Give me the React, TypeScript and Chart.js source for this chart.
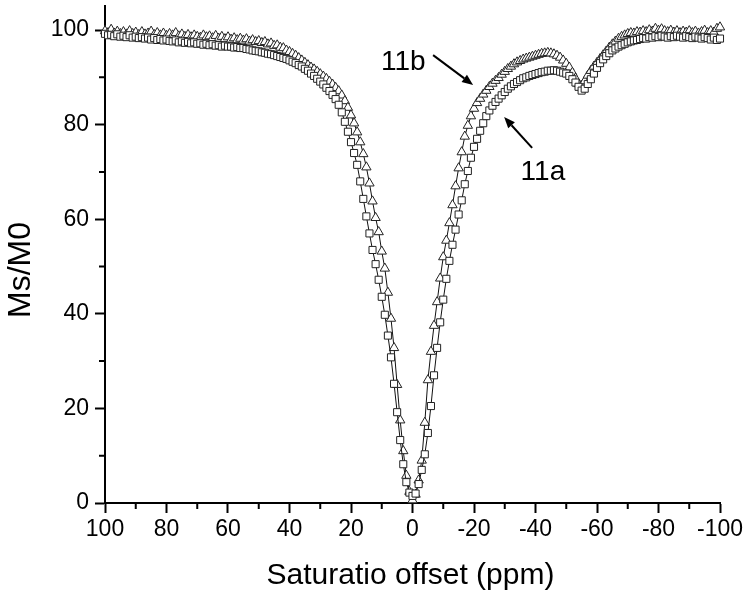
import React, { useEffect, useRef } from 'react';
import { Chart, registerables } from 'chart.js';

Chart.register(...registerables);

// Saturation offset (ppm), 100 → -100
const offsets: number[] = [
  100, 99, 98, 97, 96, 95, 94, 93, 92, 91,
  90, 89, 88, 87, 86, 85, 84, 83, 82, 81,
  80, 79, 78, 77, 76, 75, 74, 73, 72, 71,
  70, 69, 68, 67, 66, 65, 64, 63, 62, 61,
  60, 59, 58, 57, 56, 55, 54, 53, 52, 51,
  50, 49, 48, 47, 46, 45, 44, 43, 42, 41,
  40, 39, 38, 37, 36, 35, 34, 33, 32, 31,
  30, 29, 28, 27, 26, 25, 24, 23, 22, 21,
  20, 19, 18, 17, 16, 15, 14, 13, 12, 11,
  10, 9, 8, 7, 6, 5, 4, 3, 2, 1,
  0,
  -1, -2, -3, -4, -5, -6, -7, -8, -9, -10,
  -11, -12, -13, -14, -15, -16, -17, -18, -19, -20,
  -21, -22, -23, -24, -25, -26, -27, -28, -29, -30,
  -31, -32, -33, -34, -35, -36, -37, -38, -39, -40,
  -41, -42, -43, -44, -45, -46, -47, -48, -49, -50,
  -51, -52, -53, -54, -55, -56, -57, -58, -59, -60,
  -61, -62, -63, -64, -65, -66, -67, -68, -69, -70,
  -71, -72, -73, -74, -75, -76, -77, -78, -79, -80,
  -81, -82, -83, -84, -85, -86, -87, -88, -89, -90,
  -91, -92, -93, -94, -95, -96, -97, -98, -99, -100,
];

// 11a (open squares)
const series11a: number[] = [
  99.2, 98.9, 99.0, 98.7, 99.1, 98.6, 98.8, 98.5, 98.9, 98.4,
  98.6, 98.3, 98.5, 98.2, 98.4, 98.0, 98.3, 97.9, 98.1, 97.8,
  98.0, 97.7, 97.6, 97.8, 97.4, 97.6, 97.3, 97.5, 97.2, 97.4,
  97.1, 97.2, 96.9, 97.1, 96.8, 97.0, 96.7, 96.8, 96.5, 96.7,
  96.5, 96.5, 96.3, 96.4, 96.2, 96.2, 96.0, 95.9, 95.7, 95.6,
  95.5, 95.3, 95.2, 95.0, 94.9, 94.7, 94.5, 94.3, 94.1, 93.9,
  93.6, 93.3, 93.0, 92.6, 92.3, 91.8, 91.4, 90.8, 90.3, 89.7,
  89.1, 88.5, 87.8, 87.1, 86.3, 85.4, 84.2, 82.6, 80.6, 78.5,
  76.3, 74.0, 71.5, 68.0, 64.3, 60.6, 57.0, 53.5, 50.5, 47.2,
  43.6, 39.8, 35.4, 30.8, 25.2, 19.2, 13.3, 8.2, 4.4, 2.2,
  1.5,
  2.0, 4.0, 7.0, 10.3, 14.8, 20.5, 27.0, 32.8, 38.2, 43.0,
  47.4, 51.2, 54.6, 57.8, 61.0, 64.0, 67.4, 70.2, 73.0, 75.3,
  77.0, 78.7, 80.3, 81.8, 83.0, 84.0, 84.8, 85.5, 86.2, 86.9,
  87.6, 88.1, 88.6, 89.0, 89.4, 89.8, 90.0, 90.3, 90.5, 90.7,
  90.9, 91.1, 91.2, 91.4, 91.4, 91.5, 91.4, 91.2, 91.0, 90.8,
  90.3, 89.6, 88.9, 88.0, 87.2, 87.6, 88.6, 89.6, 90.8, 92.0,
  93.0, 93.8, 94.5, 95.1, 95.7, 96.1, 96.5, 96.8, 97.1, 97.4,
  97.6, 97.8, 97.9, 98.1, 98.3, 98.2, 98.5, 98.4, 98.7, 98.5,
  98.8, 98.6, 98.4, 98.7, 98.5, 98.8, 98.6, 98.4, 98.7, 98.5,
  98.3, 98.6, 98.4, 98.2, 98.5, 98.3, 98.0, 98.4, 97.9, 98.2,
];

// 11b (open triangles)
const series11b: number[] = [
  99.8, 99.4, 100.1, 99.3, 99.7, 99.2, 99.6, 99.1, 99.8, 99.2,
  99.5, 99.0, 99.6, 99.1, 99.3, 99.7, 99.0, 99.4, 98.9, 99.3,
  98.8, 99.2, 98.9, 99.4, 98.7, 99.1, 98.6, 99.0, 98.5, 98.9,
  98.6, 98.4, 98.9, 98.5, 98.7, 98.3, 98.8, 98.2, 98.6, 98.1,
  98.5, 98.0, 98.3, 97.9, 98.2, 97.8, 98.1, 97.6, 97.9, 97.5,
  97.7, 97.3, 97.5, 97.0, 97.2, 96.7, 96.8, 96.3, 96.2, 95.7,
  95.4, 95.0, 94.6, 94.1, 93.6, 93.1, 92.6, 92.1, 91.7, 91.2,
  90.7, 90.2, 89.7, 89.1, 88.5, 87.8, 87.1, 86.2, 85.0, 83.6,
  82.0, 80.3, 78.4, 76.3, 73.8, 71.0, 67.6, 63.8, 60.3, 57.3,
  53.2, 49.6, 44.5, 39.0, 32.8, 25.0, 17.5, 11.0, 5.8, 2.4,
  0.6,
  1.8, 4.8, 9.0, 17.0, 26.0, 32.0, 37.5, 42.5, 47.5, 52.0,
  55.5, 59.2, 63.0, 67.0, 70.8, 74.2, 77.5, 79.8, 81.8, 83.4,
  84.6, 85.5, 86.4, 87.2, 88.0, 88.7, 89.3, 89.9, 90.6, 91.2,
  91.8, 92.3, 92.8, 93.2, 93.5, 93.8, 94.0, 94.2, 94.4, 94.6,
  94.8, 95.0, 95.1, 95.2, 95.1, 94.9, 94.6, 94.2, 93.6, 92.9,
  92.1, 91.0, 89.8, 88.6, 88.3, 89.2, 90.4, 91.4, 92.3, 93.1,
  93.9, 94.7, 95.5, 96.3, 97.0, 97.6, 98.2, 98.6, 98.9, 99.2,
  99.4, 99.3, 99.6, 99.5, 99.8, 99.6, 100.0, 99.7, 100.3, 99.9,
  100.2, 99.8, 99.6, 99.9, 99.5, 99.8, 99.4, 99.7, 99.5, 99.8,
  99.4, 99.7, 99.3, 99.6, 99.9, 99.4, 99.8, 99.5, 100.3, 100.6,
];

const xTicks: number[] = [100, 80, 60, 40, 20, 0, -20, -40, -60, -80, -100];
const xMinorTicks: number[] = [90, 70, 50, 30, 10, -10, -30, -50, -70, -90];
const yTicks: number[] = [0, 20, 40, 60, 80, 100];
const yMinorTicks: number[] = [10, 30, 50, 70, 90];

const xTitle = 'Saturatio offset (ppm)';
const yTitle = 'Ms/M0';

// annotations (in data coordinates)
const noteTexts: string[] = ['11b', '11a'];
const noteX: number[] = [3, -42.4];
const noteY: number[] = [93.2, 70.0];
const arrowFromX: number[] = [-6.7, -38.9];
const arrowFromY: number[] = [94.7, 75.1];
const arrowToX: number[] = [-19.7, -29.8];
const arrowToY: number[] = [88.4, 81.6];

const FONT = '"Liberation Sans", Arial, Helvetica, sans-serif';

const decorPlugin = {
  id: 'decor',
  afterDraw(chart: any) {
    const ctx = chart.ctx as CanvasRenderingContext2D;
    const xs = chart.scales.x;
    const ys = chart.scales.y;
    const area = chart.chartArea;
    ctx.save();
    ctx.strokeStyle = '#000';
    ctx.fillStyle = '#000';
    // minor ticks
    ctx.lineWidth = 2;
    ctx.beginPath();
    for (const v of xMinorTicks) {
      const px = xs.getPixelForValue(v);
      ctx.moveTo(px, area.bottom);
      ctx.lineTo(px, area.bottom + 6);
    }
    for (const v of yMinorTicks) {
      const py = ys.getPixelForValue(v);
      ctx.moveTo(area.left, py);
      ctx.lineTo(area.left - 6, py);
    }
    ctx.stroke();

    // axis titles
    ctx.font = `30px ${FONT}`;
    ctx.textAlign = 'center';
    ctx.textBaseline = 'alphabetic';
    ctx.fillText(xTitle, (area.left + area.right) / 2 - 2, 584);
    ctx.save();
    ctx.translate(30, 270);
    ctx.rotate(-Math.PI / 2);
    ctx.font = `32px ${FONT}`;
    ctx.fillText(yTitle, 0, 0);
    ctx.restore();

    // annotations
    ctx.font = `28px ${FONT}`;
    ctx.textAlign = 'center';
    ctx.textBaseline = 'middle';
    for (let i = 0; i < noteTexts.length; i++) {
      ctx.fillText(noteTexts[i], xs.getPixelForValue(noteX[i]), ys.getPixelForValue(noteY[i]));
      const x1 = xs.getPixelForValue(arrowFromX[i]);
      const y1 = ys.getPixelForValue(arrowFromY[i]);
      const x2 = xs.getPixelForValue(arrowToX[i]);
      const y2 = ys.getPixelForValue(arrowToY[i]);
      const ang = Math.atan2(y2 - y1, x2 - x1);
      const head = 11;
      const hw = 4.5;
      const bx = x2 - head * Math.cos(ang);
      const by = y2 - head * Math.sin(ang);
      ctx.lineWidth = 2;
      ctx.beginPath();
      ctx.moveTo(x1, y1);
      ctx.lineTo(bx, by);
      ctx.stroke();
      ctx.beginPath();
      ctx.moveTo(x2, y2);
      ctx.lineTo(bx - hw * Math.sin(ang), by + hw * Math.cos(ang));
      ctx.lineTo(bx + hw * Math.sin(ang), by - hw * Math.cos(ang));
      ctx.closePath();
      ctx.fill();
    }
    ctx.restore();
  },
};

export default function App() {
  const canvasRef = useRef<HTMLCanvasElement | null>(null);

  useEffect(() => {
    const canvas = canvasRef.current;
    if (!canvas) return;
    const mk = (vals: number[]) => offsets.map((x, i) => ({ x, y: vals[i] }));
    const chart = new Chart(canvas, {
      type: 'line',
      data: {
        datasets: [
          {
            label: '11a',
            data: mk(series11a),
            borderColor: '#111',
            borderWidth: 1,
            pointStyle: 'rect',
            pointRadius: 5,
            pointBorderWidth: 1,
            pointBorderColor: '#222',
            pointBackgroundColor: '#fff',
            tension: 0,
            clip: false as any,
          },
          {
            label: '11b',
            data: mk(series11b),
            borderColor: '#111',
            borderWidth: 1,
            pointStyle: 'triangle',
            pointRadius: 5.4,
            pointBorderWidth: 1,
            pointBorderColor: '#222',
            pointBackgroundColor: '#fff',
            tension: 0,
            clip: false as any,
          },
        ],
      },
      options: {
        animation: false,
        responsive: false,
        events: [],
        layout: { padding: { top: 5, right: 30, left: 0, bottom: 0 } },
        plugins: { legend: { display: false }, tooltip: { enabled: false } },
        scales: {
          x: {
            type: 'linear',
            reverse: true,
            min: -100,
            max: 100,
            afterBuildTicks: (s: any) => {
              s.ticks = xTicks.map((v) => ({ value: v }));
            },
            afterFit: (s: any) => {
              s.height = 94;
              s.paddingLeft = 0;
              s.paddingRight = 0;
            },
            grid: {
              display: true,
              drawOnChartArea: false,
              drawTicks: true,
              tickLength: 10,
              tickWidth: 2,
              tickColor: '#000',
            },
            border: { display: true, color: '#000', width: 2 },
            ticks: {
              color: '#000',
              padding: 3,
              maxRotation: 0,
              autoSkip: false,
              font: { family: FONT, size: 23 },
              callback: (v: any) => String(v),
            },
          },
          y: {
            type: 'linear',
            min: 0,
            max: 105,
            afterBuildTicks: (s: any) => {
              s.ticks = yTicks.map((v) => ({ value: v }));
            },
            afterFit: (s: any) => {
              s.width = 105;
              s.paddingTop = 0;
              s.paddingBottom = 0;
            },
            grid: {
              display: true,
              drawOnChartArea: false,
              drawTicks: true,
              tickLength: 10,
              tickWidth: 2,
              tickColor: '#000',
            },
            border: { display: true, color: '#000', width: 2 },
            ticks: {
              color: '#000',
              padding: 6,
              autoSkip: false,
              font: { family: FONT, size: 23 },
              callback: (v: any) => String(v),
            },
          },
        },
      },
      plugins: [decorPlugin],
    } as any);
    return () => chart.destroy();
  }, []);

  return (
    <div style={{ position: 'absolute', left: 0, top: 0, width: 750, height: 597, background: '#fff' }}>
      <canvas ref={canvasRef} width={750} height={597} style={{ display: 'block', width: 750, height: 597 }} />
    </div>
  );
}
